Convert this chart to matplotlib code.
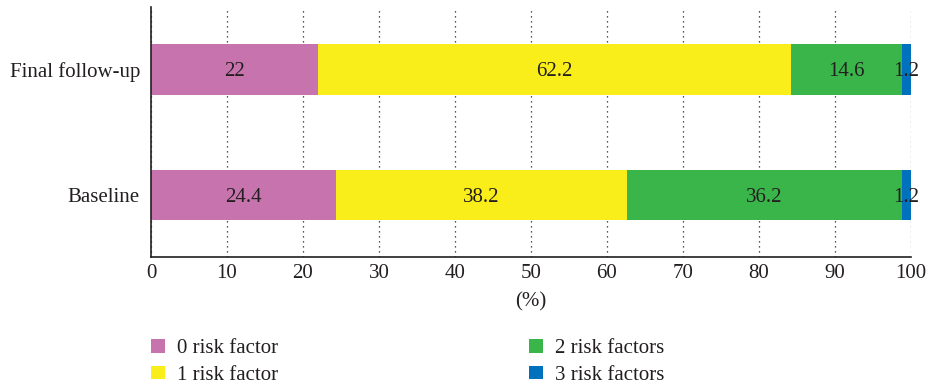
import matplotlib
matplotlib.use("Agg")
import matplotlib.pyplot as plt
from matplotlib.patches import Patch

plt.rcParams['font.family'] = ['Liberation Serif', 'DejaVu Serif']

categories = ["Baseline", "Final follow-up"]
series_names = ["0 risk factor", "1 risk factor", "2 risk factors", "3 risk factors"]
risk0 = [24.4, 22]
risk1 = [38.2, 62.2]
risk2 = [36.2, 14.6]
risk3 = [1.2, 1.2]
xticks = [0, 10, 20, 30, 40, 50, 60, 70, 80, 90, 100]

colors = ["#C774AE", "#F9ED1A", "#39B54A", "#0071BC"]
ink = "#231F20"
fs = 15

fig = plt.figure(figsize=(9.28, 3.87), dpi=100)
ax = fig.add_axes([151/928, 1 - 257/387, 760/928, 250/387])

ypos = list(range(len(categories)))
left = [0.0] * len(categories)
for vals, color in zip([risk0, risk1, risk2, risk3], colors):
    ax.barh(ypos, vals, left=left, height=0.4, color=color, zorder=2)
    for y, v, l in zip(ypos, vals, left):
        ax.text(l + v / 2, y, f"{v:g}", ha="center", va="center_baseline",
                fontsize=fs, color=ink, zorder=3)
    left = [a + b for a, b in zip(left, vals)]

ax.set_xlim(0, 100)
ax.set_ylim(-0.5, 1.5)
ax.set_xticks(xticks)
ax.set_xticklabels([str(t) for t in xticks])
ax.set_yticks(ypos)
ax.set_yticklabels(categories)
ax.tick_params(axis="x", length=0, labelsize=fs, colors=ink, pad=5)
ax.tick_params(axis="y", length=0, labelsize=fs, colors=ink, pad=8)
ax.set_xlabel("(%)", fontsize=fs, color=ink, labelpad=7)

ax.xaxis.grid(True, linestyle=(0, (1, 3)), color=ink, linewidth=0.9, zorder=0)
ax.set_axisbelow(True)
for side in ("top", "right"):
    ax.spines[side].set_visible(False)
for side in ("left", "bottom"):
    ax.spines[side].set_color(ink)
    ax.spines[side].set_linewidth(1.2)

handles = [Patch(facecolor=c, edgecolor="none") for c in colors]
fig.legend(handles, series_names, loc="upper left", bbox_to_anchor=(151/928, 1 - 339/387),
           ncol=2, frameon=False, fontsize=fs, handlelength=0.65, handleheight=0.65,
           handletextpad=0.6, columnspacing=12.06, labelspacing=0.35, borderpad=0,
           borderaxespad=0, labelcolor=ink)

fig.savefig("out.png", dpi=100)
